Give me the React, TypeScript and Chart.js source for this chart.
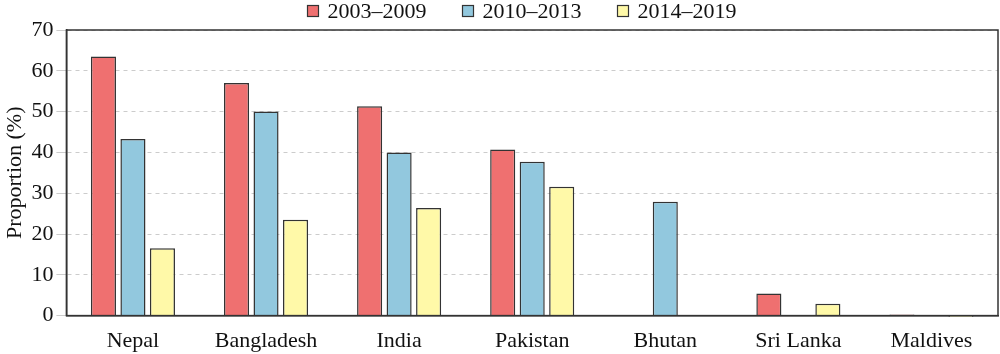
import React, { useEffect, useRef } from "react";
import { Chart, registerables } from "chart.js";

Chart.register(...registerables);

const categories = ["Nepal", "Bangladesh", "India", "Pakistan", "Bhutan", "Sri Lanka", "Maldives"];
const series2003_2009 = [63.5, 57.0, 51.3, 40.7, null, 5.4, 0.3];
const series2010_2013 = [43.3, 50.0, 40.0, 37.7, 27.9, null, null];
const series2014_2019 = [16.5, 23.5, 26.4, 31.6, null, 2.9, -0.3];
const yTicks = [0, 10, 20, 30, 40, 50, 60, 70];

const FONT = "'Liberation Serif', 'Times New Roman', serif";

const boxPlugin = {
  id: "boxBorder",
  afterDatasetsDraw(chart: any) {
    const { ctx, chartArea } = chart;
    ctx.save();
    ctx.strokeStyle = "#333";
    ctx.lineWidth = 1.5;
    ctx.strokeRect(chartArea.left, chartArea.top, chartArea.right - chartArea.left, chartArea.bottom - chartArea.top);
    ctx.restore();
  },
};

const legendPlugin = {
  id: "topLegend",
  afterDraw(chart: any) {
    const { ctx } = chart;
    const datasets = chart.data.datasets;
    ctx.save();
    ctx.font = `22px ${FONT}`;
    ctx.textBaseline = "middle";
    const box = 11;
    const gapBoxText = 9;
    const gapItems = 36;
    const widths = datasets.map((d: any) => box + gapBoxText + ctx.measureText(d.label).width);
    const total = widths.reduce((a: number, b: number) => a + b, 0) + gapItems * (datasets.length - 1);
    let x = (chart.width - total) / 2 + 22;
    const cy = 11;
    datasets.forEach((d: any, i: number) => {
      ctx.fillStyle = d.backgroundColor;
      ctx.fillRect(x, cy - box / 2, box, box);
      ctx.strokeStyle = "#333";
      ctx.lineWidth = 1.2;
      ctx.strokeRect(x, cy - box / 2, box, box);
      ctx.fillStyle = "#111";
      ctx.textAlign = "left";
      ctx.fillText(d.label, x + box + gapBoxText, cy + 1);
      x += widths[i] + gapItems;
    });
    ctx.restore();
  },
};

export default function App() {
  const ref = useRef<HTMLCanvasElement>(null);
  useEffect(() => {
    document.body.style.margin = "0";
    const ds = (label: string, data: any[], color: string) => ({
      label,
      data,
      backgroundColor: color,
      borderColor: "#333",
      borderWidth: 1.5,
      barPercentage: 0.85,
      categoryPercentage: 0.665,
      clip: false,
    });
    const chart = new Chart(ref.current!, {
      type: "bar",
      data: {
        labels: categories,
        datasets: [
          ds("2003\u20132009", series2003_2009, "#EF7070"),
          ds("2010\u20132013", series2010_2013, "#92C8DE"),
          ds("2014\u20132019", series2014_2019, "#FFF9A8"),
        ],
      },
      options: {
        animation: false,
        responsive: false,
        maintainAspectRatio: false,
        layout: { padding: { left: 2, right: 2, top: 30, bottom: -4 } },
        plugins: {
          tooltip: { enabled: false },
          legend: { display: false },
        },
        scales: {
          x: {
            grid: { display: false },
            border: { color: "#333", width: 1.5 },
            ticks: { font: { family: FONT, size: 22 }, color: "#111", padding: 4 },
          },
          y: {
            min: 0,
            max: 70,
            afterBuildTicks: (axis: any) => {
              axis.ticks = yTicks.map((v) => ({ value: v }));
            },
            grid: {
              color: "#cccccc",
              lineWidth: 1,
              tickLength: 10,
              drawOnChartArea: true,
            },
            border: { color: "#333", width: 1.5, dash: [4, 4] },
            ticks: { font: { family: FONT, size: 22 }, color: "#111", padding: 3 },
            title: {
              display: true,
              text: "Proportion (%)",
              font: { family: FONT, size: 22 },
              color: "#111",
              padding: 0,
            },
          },
        },
      },
      plugins: [boxPlugin, legendPlugin],
    } as any);
    return () => chart.destroy();
  }, []);
  return (
    <div style={{ width: 1000, height: 354 }}>
      <canvas ref={ref} width={1000} height={354} />
    </div>
  );
}
